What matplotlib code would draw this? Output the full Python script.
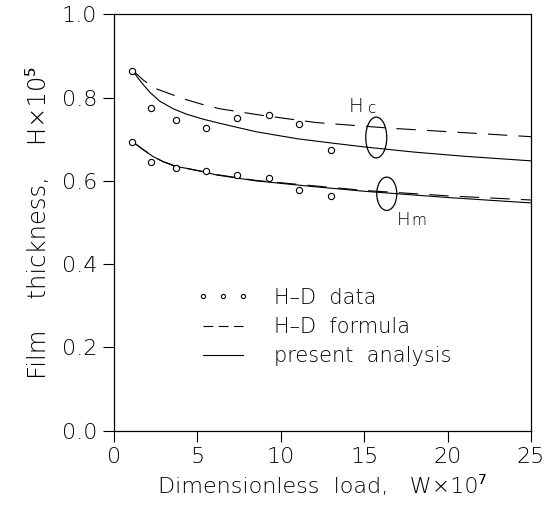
import matplotlib
matplotlib.use("Agg")
import matplotlib.pyplot as plt
from matplotlib.patches import Ellipse
from matplotlib.lines import Line2D

plt.rcParams['font.family'] = ['DejaVu Sans', 'Noto Sans']
plt.rcParams['font.weight'] = 'light'
plt.rcParams['axes.labelweight'] = 'light'
plt.rcParams['lines.scale_dashes'] = False

# H-D data points (W x 10^7, H x 10^5)
w_data = [1.1, 2.2, 3.7, 5.5, 7.4, 9.3, 11.1, 13.0]
hc_data = [0.864, 0.776, 0.746, 0.727, 0.750, 0.758, 0.737, 0.673]
hm_data = [0.694, 0.646, 0.630, 0.624, 0.614, 0.606, 0.578, 0.564]

# H-D formula curves (dashed)
w_hc_formula = [1.1, 1.75, 2.46, 3.55, 4.15, 5.25, 6.35, 8.74, 12.1, 16.7, 25.0]
hc_formula = [0.866, 0.842, 0.822, 0.806, 0.797, 0.784, 0.773, 0.758, 0.740, 0.726, 0.706]
w_hm_formula = [1.1, 1.75, 2.35, 2.95, 3.65, 4.35, 5.35, 6.15, 8.5, 12.0, 15.0, 20.0, 25.0]
hm_formula = [0.694, 0.675, 0.658, 0.646, 0.636, 0.630, 0.622, 0.615, 0.601, 0.588, 0.577, 0.564, 0.554]

# present analysis curves (solid)
w_hc_present = [1.1, 1.45, 1.75, 2.16, 2.75, 3.55, 4.35, 5.35, 6.35, 8.5, 11.0, 13.0, 15.1, 18.0, 21.0, 25.0]
hc_present = [0.866, 0.846, 0.831, 0.812, 0.791, 0.773, 0.760, 0.748, 0.738, 0.718, 0.701, 0.691, 0.681, 0.669, 0.659, 0.648]
w_hm_present = [1.1, 1.75, 2.35, 2.95, 3.65, 4.35, 5.35, 6.15, 8.5, 12.0, 15.0, 20.0, 25.0]
hm_present = [0.694, 0.675, 0.658, 0.646, 0.635, 0.630, 0.622, 0.614, 0.600, 0.586, 0.575, 0.560, 0.547]

fig = plt.figure(figsize=(5.59, 5.08), dpi=100)
ax = fig.add_axes([0.204, 0.152, 0.746, 0.820])

dash = (0, (14, 8))
ax.plot(w_hc_formula, hc_formula, color='black', lw=0.8, linestyle=dash)
ax.plot(w_hm_formula, hm_formula, color='black', lw=0.8, linestyle=dash)
ax.plot(w_hc_present, hc_present, color='black', lw=0.8)
ax.plot(w_hm_present, hm_present, color='black', lw=0.8)
ax.plot(w_data, hc_data, 'o', mfc='white', mec='black', ms=4.5, mew=0.8)
ax.plot(w_data, hm_data, 'o', mfc='white', mec='black', ms=4.5, mew=0.8)

# ellipses grouping the curve pairs, with labels
ax.add_patch(Ellipse((15.72, 0.704), 1.26, 0.098, fill=False, ec='black', lw=0.9))
ax.add_patch(Ellipse((16.35, 0.569), 1.2, 0.080, fill=False, ec='black', lw=0.9))
ax.text(14.05, 0.765, 'H', fontsize=14, ha='left', va='baseline')
ax.text(15.25, 0.762, 'c', fontsize=11, ha='left', va='baseline')
ax.text(16.95, 0.494, 'H', fontsize=13, ha='left', va='baseline')
ax.text(17.8, 0.494, 'm', fontsize=11, ha='left', va='baseline')

ax.set_xlim(0, 25)
ax.set_ylim(0, 1.0)
ax.set_xticks([0, 5, 10, 15, 20, 25])
ax.set_yticks([0.0, 0.2, 0.4, 0.6, 0.8, 1.0])
ax.set_yticklabels(['0.0', '0.2', '0.4', '0.6', '0.8', '1.0'])
ax.tick_params(direction='out', length=8, width=0.8, labelsize=16, pad=4)
for s in ax.spines.values():
    s.set_linewidth(0.9)

ax.set_xlabel('Dimensionless  load,   W\u00d710\u2077', fontsize=16, labelpad=6)
ax.set_ylabel('Film    thickness,    H\u00d710\u2075', fontsize=17.5, labelpad=8)

handles = [
    Line2D([], [], marker='o', linestyle='none', mfc='white', mec='black', ms=3, mew=0.8),
    Line2D([], [], color='black', lw=0.8, linestyle=(0, (7, 4))),
    Line2D([], [], color='black', lw=0.8),
]
ax.legend(handles, ['H\u2013D  data', 'H\u2013D  formula', 'present  analysis'],
          loc='center left', bbox_to_anchor=(0.199, 0.249), frameon=False,
          borderpad=0, borderaxespad=0,
          fontsize=15, numpoints=3, handlelength=2.5, handletextpad=1.2,
          labelspacing=0.45)

fig.savefig('out.png', dpi=100)
